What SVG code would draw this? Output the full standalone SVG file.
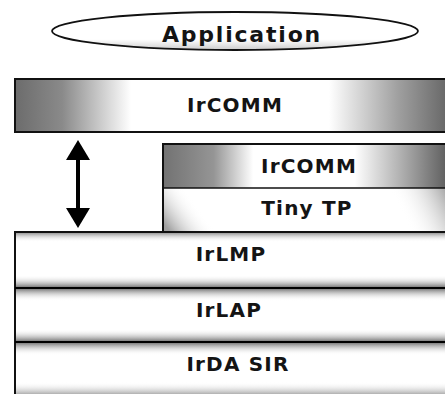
<svg xmlns="http://www.w3.org/2000/svg" width="445" height="394" viewBox="0 0 445 394">
  <style>
    .lbl { font-family: "DejaVu Sans", "Verdana", sans-serif; font-weight: bold; font-size: 20px; fill: #141414; text-anchor: middle; letter-spacing: 1.2px; }
    .app { font-size: 22px; letter-spacing: 1.8px; }
    .edge { stroke: #111; stroke-width: 2; fill: none; }
  </style>
  <defs>
    <linearGradient id="gEll" x1="0" y1="0" x2="0" y2="1">
      <stop offset="0" stop-color="#ffffff"/>
      <stop offset="0.72" stop-color="#ffffff"/>
      <stop offset="1" stop-color="#cccccc"/>
    </linearGradient>
    <linearGradient id="gTop" gradientUnits="userSpaceOnUse" x1="15" y1="0" x2="445" y2="0">
      <stop offset="0" stop-color="#6c6c6c"/>
      <stop offset="0.11" stop-color="#8a8a8a"/>
      <stop offset="0.27" stop-color="#ffffff"/>
      <stop offset="0.73" stop-color="#ffffff"/>
      <stop offset="0.89" stop-color="#a0a0a0"/>
      <stop offset="1" stop-color="#6a6a6a"/>
    </linearGradient>
    <linearGradient id="gCom2" gradientUnits="userSpaceOnUse" x1="163" y1="0" x2="445" y2="0">
      <stop offset="0" stop-color="#727272"/>
      <stop offset="0.18" stop-color="#959595"/>
      <stop offset="0.32" stop-color="#ffffff"/>
      <stop offset="0.68" stop-color="#ffffff"/>
      <stop offset="0.86" stop-color="#a8a8a8"/>
      <stop offset="1" stop-color="#626262"/>
    </linearGradient>
    <linearGradient id="gTinyL" gradientUnits="userSpaceOnUse" x1="170" y1="232" x2="200" y2="210">
      <stop offset="0" stop-color="#a0a0a0"/>
      <stop offset="1" stop-color="#ffffff" stop-opacity="0"/>
    </linearGradient>
    <linearGradient id="gTinyR" gradientUnits="userSpaceOnUse" x1="445" y1="188" x2="400" y2="210">
      <stop offset="0" stop-color="#a8a8a8"/>
      <stop offset="1" stop-color="#ffffff" stop-opacity="0"/>
    </linearGradient>
    <linearGradient id="gBand" x1="0" y1="0" x2="0" y2="1">
      <stop offset="0" stop-color="#ffffff" stop-opacity="0"/>
      <stop offset="0.45" stop-color="#858585"/>
      <stop offset="0.55" stop-color="#858585"/>
      <stop offset="1" stop-color="#ffffff" stop-opacity="0"/>
    </linearGradient>
    <linearGradient id="gBandDown" x1="0" y1="0" x2="0" y2="1">
      <stop offset="0" stop-color="#9a9a9a"/>
      <stop offset="1" stop-color="#ffffff" stop-opacity="0"/>
    </linearGradient>
    <linearGradient id="gBandUp" x1="0" y1="0" x2="0" y2="1">
      <stop offset="0" stop-color="#ffffff" stop-opacity="0"/>
      <stop offset="1" stop-color="#b0b0b0"/>
    </linearGradient>
    <marker id="head" viewBox="0 0 20 24" markerUnits="userSpaceOnUse" markerWidth="20" markerHeight="24" refX="10" refY="12" orient="auto-start-reverse">
      <path d="M0,0 L20,12 L0,24 Z" fill="#000"/>
    </marker>
  </defs>

  <rect x="0" y="0" width="445" height="394" fill="#ffffff"/>

  <g id="application">
    <ellipse cx="235" cy="31" rx="183" ry="19" fill="url(#gEll)" stroke="#111" stroke-width="1.8"/>
    <text class="lbl app" x="242" y="42">Application</text>
  </g>

  <g id="ircomm-top">
    <rect x="15" y="79" width="432" height="53" fill="url(#gTop)"/>
    <path class="edge" d="M447,79 H15 V132 H447"/>
    <text class="lbl" x="235" y="112">IrCOMM</text>
  </g>

  <g id="ircomm-stack">
    <rect x="163" y="144" width="284" height="44" fill="url(#gCom2)"/>
    <text class="lbl" x="309" y="173">IrCOMM</text>
  </g>

  <g id="tinytp">
    <rect x="163" y="188" width="284" height="43" fill="#ffffff"/>
    <rect x="163" y="188" width="284" height="43" fill="url(#gTinyL)"/>
    <rect x="163" y="188" width="284" height="43" fill="url(#gTinyR)"/>
    <path class="edge" d="M447,144 H163 V231"/>
    <line x1="163" y1="188" x2="447" y2="188" stroke="#111" stroke-width="1.5"/>
    <text class="lbl" x="307" y="215">Tiny TP</text>
  </g>

  <g id="irlmp">
    <rect x="15" y="233" width="432" height="9" fill="url(#gBandDown)"/>
    <rect x="15" y="275" width="432" height="26" fill="url(#gBand)"/>
    <text class="lbl" x="231" y="261">IrLMP</text>
  </g>

  <g id="irlap">
    <rect x="15" y="329" width="432" height="26" fill="url(#gBand)"/>
    <text class="lbl" x="229" y="317">IrLAP</text>
  </g>

  <g id="irdasir">
    <rect x="15" y="382" width="432" height="12" fill="url(#gBandUp)"/>
    <text class="lbl" x="238" y="371">IrDA SIR</text>
  </g>

  <g id="stack-lines">
    <path class="edge" d="M447,232 H15 V394"/>
    <line x1="15" y1="288" x2="447" y2="288" stroke="#000" stroke-width="2.2"/>
    <line x1="15" y1="342" x2="447" y2="342" stroke="#000" stroke-width="2.2"/>
  </g>

  <g id="connectors">
    <line x1="78" y1="150" x2="78" y2="218" stroke="#000" stroke-width="4" marker-start="url(#head)" marker-end="url(#head)"/>
  </g>
</svg>
